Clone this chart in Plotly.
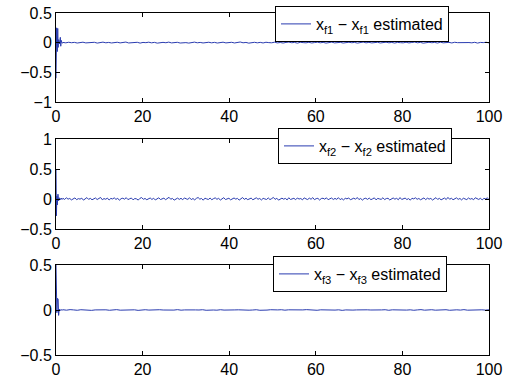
import numpy as np
import plotly.graph_objects as go

# Start-up transient of each estimation error (time, value)
t1_start = [0.0, 0.15, 0.3, 0.4, 0.5, 0.6, 0.8, 1.0, 1.1, 1.2, 1.4]
e1_start = [-0.6, 0.25, -0.15, 0.24, -0.08, 0.05, -0.02, 0.09, -0.06, 0.04, -0.01]

t2_start = [0.0, 0.1, 0.2, 0.3, 0.45, 0.6, 0.8, 1.0, 1.2, 1.4]
e2_start = [0.5, -0.28, 0.05, -0.1, 0.08, -0.03, 0.02, -0.01, 0.015, -0.008]

t3_start = [0.0, 0.1, 0.2, 0.35, 0.5, 0.6, 0.75, 0.9, 1.1, 1.4]
e3_start = [0.5, 0.02, -0.03, 0.13, 0.12, -0.06, 0.01, -0.01, 0.005, -0.002]

# Steady-state residual error after convergence
e1_steady = [
    0.004, -0.003, 0.007, -0.001, 0.005, -0.006, 0.002, 0.008, -0.004, 0.003,
    -0.002, 0.006, -0.007, 0.003, 0.009, -0.002, 0.004, -0.005, 0.001, 0.007,
    -0.004, 0.002, 0.010, -0.005, 0.003, -0.001, 0.006, -0.007, 0.004, 0.000,
    0.008, -0.003, 0.005, -0.008, 0.002, 0.005, -0.001, 0.009, -0.004, 0.002,
    0.006, -0.006, 0.003, 0.001, -0.007, 0.004, 0.009, -0.002, 0.004, -0.005,
    0.001, 0.007, -0.003, 0.005, -0.006, 0.002, 0.008, -0.004, 0.000, 0.006,
    -0.005, 0.003, 0.011, -0.002, 0.004, -0.008, 0.002, 0.006, -0.003, 0.005,
    -0.005, 0.007, 0.001, -0.002, 0.008, -0.004, 0.003, -0.006, 0.004, 0.010,
    -0.001, 0.004, -0.008, 0.006, 0.001, -0.003, 0.006, -0.005, 0.002, 0.008,
    -0.002, 0.005, -0.007, 0.003, 0.009, -0.004, 0.002, 0.005, -0.006, 0.003,
    0.007, -0.001, 0.004, -0.007, 0.002, 0.010, -0.003, 0.005, -0.004, 0.001,
    0.006, -0.005, 0.002, 0.008, -0.002, 0.004, -0.006, 0.004, 0.000, -0.003,
    0.007, -0.004, 0.003, 0.010, -0.002, 0.005, -0.008, 0.002, 0.006, -0.001,
    0.004, -0.006, 0.008, -0.003, 0.002, 0.005, -0.005, 0.007, 0.000, 0.003,
    -0.006, 0.008, 0.002, -0.003, 0.006, -0.007, 0.004, 0.001, 0.007, -0.004,
]
e2_steady = [
    0.012, -0.008, 0.021, -0.003, 0.009, -0.015, 0.004, 0.018, -0.011, 0.006,
    -0.002, 0.014, -0.019, 0.008, 0.023, -0.006, 0.011, -0.013, 0.002, 0.017,
    -0.009, 0.005, 0.026, -0.012, 0.007, -0.004, 0.015, -0.017, 0.010, 0.001,
    0.019, -0.007, 0.012, -0.021, 0.006, 0.013, -0.003, 0.022, -0.010, 0.004,
    0.016, -0.014, 0.008, 0.002, -0.018, 0.011, 0.024, -0.005, 0.009, -0.012,
    0.003, 0.017, -0.008, 0.013, -0.016, 0.006, 0.020, -0.009, 0.001, 0.014,
    -0.011, 0.007, 0.028, -0.004, 0.010, -0.019, 0.005, 0.015, -0.007, 0.012,
    -0.013, 0.018, 0.003, -0.006, 0.021, -0.010, 0.008, -0.015, 0.011, 0.025,
    -0.003, 0.009, -0.020, 0.014, 0.002, -0.008, 0.016, -0.012, 0.006, 0.019,
    -0.005, 0.011, -0.017, 0.007, 0.022, -0.009, 0.004, 0.013, -0.014, 0.008,
    0.017, -0.002, 0.010, -0.018, 0.005, 0.024, -0.007, 0.012, -0.011, 0.003,
    0.015, -0.013, 0.006, 0.020, -0.004, 0.009, -0.016, 0.011, 0.001, -0.008,
    0.018, -0.010, 0.007, 0.026, -0.006, 0.013, -0.019, 0.004, 0.014, -0.003,
    0.010, -0.015, 0.021, -0.008, 0.005, 0.012, -0.012, 0.017, -0.001, 0.008,
    -0.014, 0.019, 0.003, -0.009, 0.015, -0.005, 0.023, -0.011, 0.006, 0.011,
    -0.017, 0.008, 0.013, -0.003, 0.020, -0.012, 0.004, 0.016, -0.008, 0.010,
    -0.006, 0.022, -0.010, 0.007, -0.015, 0.012, 0.002, 0.018, -0.013, 0.005,
    0.014, -0.004, 0.025, -0.009, 0.009, -0.018, 0.006, 0.013, -0.007, 0.016,
    -0.011, 0.003, 0.019, -0.014, 0.010, 0.001, -0.006, 0.021, -0.010, 0.008,
    0.012, -0.016, 0.005, 0.017, -0.003, 0.011, -0.012, 0.024, -0.008, 0.004,
    0.015, -0.009, 0.007, -0.019, 0.013, 0.002, 0.020, -0.005, 0.009, -0.013,
    0.006, 0.018, -0.011, 0.014, -0.002, 0.010, -0.017, 0.008, 0.022, -0.007,
    0.011, -0.014, 0.004, 0.016, -0.009, 0.027, -0.004, 0.012, -0.012, 0.005,
    0.019, -0.006, 0.009, -0.015, 0.013, 0.001, -0.010, 0.017, -0.003, 0.008,
    -0.012, 0.021, 0.005, -0.008, 0.014, -0.016, 0.010, 0.003, 0.018, -0.009,
]
e3_steady = [
    0.003, -0.002, 0.004, 0.001, -0.003, 0.003, -0.001, 0.002, -0.004, 0.001,
    0.004, -0.001, 0.002, -0.003, 0.001, 0.004, -0.002, 0.000, 0.003, -0.002,
    0.002, -0.004, 0.001, 0.003, -0.001, 0.002, -0.003, 0.003, 0.000, -0.003,
    0.002, -0.001, 0.004, -0.002, 0.001, 0.003, -0.002, 0.001, 0.000, 0.003,
    -0.003, 0.002, 0.000, -0.002, 0.003, -0.001, 0.002, -0.003, 0.001, 0.002,
    -0.001, 0.004, -0.002, 0.000, 0.003, -0.003, 0.002, -0.001, 0.003, -0.002,
    0.001, 0.003, -0.002, 0.002, 0.000, 0.003, -0.002, 0.001, 0.004, -0.001,
    0.001, -0.003, 0.002, 0.000, -0.002, 0.003, -0.001, 0.002, -0.004, 0.001,
    0.004, -0.001, 0.001, 0.003, -0.002, 0.002, 0.000, 0.003, -0.002, 0.001,
    0.003, -0.003, 0.002, 0.000, -0.002, 0.004, -0.001, 0.002, -0.003, 0.001,
    0.004, -0.002, 0.001, 0.003, -0.002, 0.002, -0.001, 0.003, -0.003, 0.001,
    0.002, -0.001, 0.004, -0.002, 0.000, 0.003, -0.003, 0.002, -0.001, 0.002,
]

labels = [
    "x<sub>f1</sub> \u2212 x<sub>f1</sub> estimated",
    "x<sub>f2</sub> \u2212 x<sub>f2</sub> estimated",
    "x<sub>f3</sub> \u2212 x<sub>f3</sub> estimated",
]
y_ranges = [[-1, 0.5], [-0.5, 1], [-0.5, 0.5]]
y_ticks = [[-1, -0.5, 0, 0.5], [-0.5, 0, 0.5, 1], [-0.5, 0, 0.5]]
x_ticks = [0, 20, 40, 60, 80, 100]

W, H = 513, 377
LINE = "#2a3cb0"
FONT = "Liberation Sans, Arial, sans-serif"

# Pixel boxes of the three axes (left, right, top, bottom)
boxes = [(56, 489, 13, 102), (56, 489, 139, 229), (56, 489, 265, 355)]
# Top-left corner of each legend box, in pixels
legend_pos = [(275, 6), (278, 128), (273, 256)]


def sample_times(start_times, steady_values):
    """Times of the steady-state samples, evenly spaced after the transient."""
    return start_times + list(np.linspace(1.6, 100, len(steady_values)))


series = [
    (sample_times(t1_start, e1_steady), e1_start + e1_steady),
    (sample_times(t2_start, e2_steady), e2_start + e2_steady),
    (sample_times(t3_start, e3_steady), e3_start + e3_steady),
]

fig = go.Figure()
layout = dict(
    width=W, height=H, autosize=False,
    margin=dict(l=0, r=0, t=0, b=0, autoexpand=False),
    paper_bgcolor="white", plot_bgcolor="white",
    font=dict(family=FONT, size=16, color="black"),
    showlegend=True,
)

for i, ((tx, ey), lab, yr, yt, box, lp) in enumerate(
        zip(series, labels, y_ranges, y_ticks, boxes, legend_pos)):
    n = "" if i == 0 else str(i + 1)
    leg = "legend" if i == 0 else f"legend{i + 1}"
    fig.add_trace(go.Scatter(
        x=tx, y=ey, mode="lines", name=lab,
        line=dict(color=LINE, width=1),
        xaxis=f"x{n}", yaxis=f"y{n}", legend=leg,
    ))
    l, r, t, b = box
    axis_common = dict(
        showline=True, linecolor="black", linewidth=1, mirror="ticks",
        ticks="inside", ticklen=4, tickcolor="black",
        showgrid=False, zeroline=False, automargin=False,
        tickfont=dict(family=FONT, size=16, color="black"),
    )
    layout[f"xaxis{n}"] = dict(
        domain=[l / W, r / W], anchor=f"y{n}", range=[0, 100],
        tickvals=x_ticks, **axis_common,
    )
    layout[f"yaxis{n}"] = dict(
        domain=[1 - b / H, 1 - t / H], anchor=f"x{n}", range=yr,
        tickvals=yt, ticktext=[f"{v:g}".replace("-", "\u2212") for v in yt],
        **axis_common,
    )
    layout[leg] = dict(
        x=lp[0] / W, y=1 - lp[1] / H, xanchor="left", yanchor="top",
        bgcolor="white", bordercolor="black", borderwidth=1,
        font=dict(family=FONT, size=16, color="black"),
        itemwidth=30,
    )

fig.update_layout(**layout)
fig.write_html(
    "out.html",
    config={"responsive": False, "displayModeBar": False},
    post_script="document.body.style.margin='0';",
)
